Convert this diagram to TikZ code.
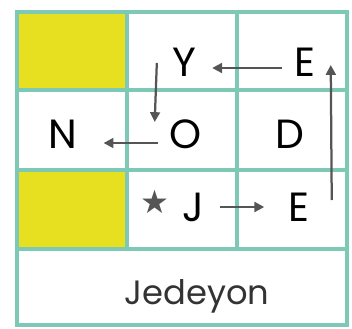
\documentclass[tikz,border=0pt]{standalone}
\usepackage{fontspec}
\setmainfont{Poppins}
\newfontfamily\symfont{DejaVu Sans}
\usetikzlibrary{arrows.meta,calc}
\definecolor{gridteal}{HTML}{7EC9B5}
\definecolor{cellyellow}{HTML}{E6E021}
\definecolor{trailgray}{HTML}{555555}
\tikzset{
  letter/.style={font=\fontsize{29}{29}\selectfont, inner sep=0pt},
  trail/.style={trailgray, line width=1.6pt, -{Triangle[length=7pt,width=7pt]}},
  gridline/.style={gridteal, line width=2.8pt},
}

\begin{document}
\begin{tikzpicture}[x=0.025cm,y=-0.025cm]
\useasboundingbox (0,0) rectangle (352,328);
% gelbe Felder
\fill[cellyellow] (17,12) rectangle (127,90);
\fill[cellyellow] (17,170) rectangle (127,249);
% Raster
\draw[gridline] (17,12) rectangle (347,325);
\foreach \y in {90,170,249} \draw[gridline] (17,\y) -- (347,\y);
\foreach \x in {127,237} \draw[gridline] (\x,12) -- (\x,249);
% Buchstaben
\node[letter] (y) at (184,62) {Y};
\node[letter] (etop) at (305,62) {E};
\node[letter] (n) at (63,134) {N};
\node[letter] (o) at (186,134) {O};
\node[letter] (d) at (290,134) {D};
\node[letter] (j) at (193,207) {J};
\node[letter] (ebot) at (299,207) {E};
\node[font=\symfont\fontsize{23}{23}\selectfont, text=trailgray, inner sep=0pt] (star) at (155,202) {★};
\node[font=\fontsize{24}{24}\selectfont, text=black!80] (word) at (197,296) {Jedeyon};
% Pfeile
\draw[trail] ($(etop.west)+(-12,6)$) -- ($(y.east)+(16,6)$);
\draw[trail] ($(y.west)+(-15,1)$) -- ($(o.west)+(-15,-12)$);
\draw[trail] ($(o.west)+(-12,9)$) -- ($(n.east)+(26,9)$);
\draw[trail] ($(j.east)+(16,0)$) -- ($(ebot.west)+(-24,0)$);
\draw[trail] ($(ebot.east)+(22,-7)$) -- ($(etop.east)+(15,3)$);
\end{tikzpicture}
\end{document}
